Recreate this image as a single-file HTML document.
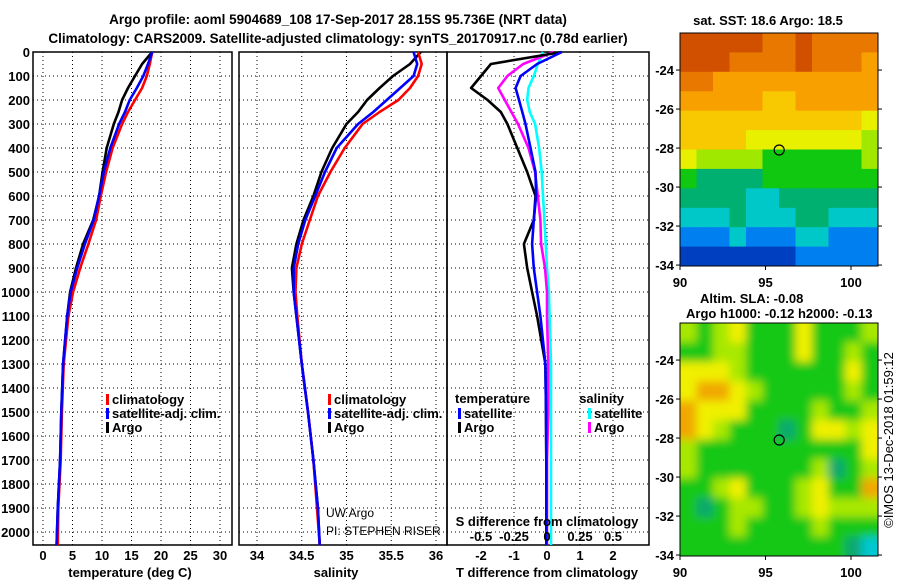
<!DOCTYPE html>
<html><head><meta charset="utf-8"><style>
html,body{margin:0;padding:0;background:#fff;}
svg{display:block;font-family:"Liberation Sans",sans-serif;}
.b{font-weight:bold;font-size:13px;}
</style></head><body>
<svg id="c" width="900" height="580" viewBox="0 0 900 580">
<text x="338" y="24" text-anchor="middle" font-size="13.5" font-weight="bold">Argo profile: aoml 5904689_108 17-Sep-2017 28.15S 95.736E (NRT data)</text>
<text x="338" y="43" text-anchor="middle" font-size="13.5" font-weight="bold">Climatology: CARS2009. Satellite-adjusted climatology: synTS_20170917.nc (0.78d earlier)</text>
<g id="g"></g>
</svg>
<script>
// ---------- data ----------
const depths = [0,50,100,150,200,250,300,400,500,600,700,800,900,1000,1100,1300,1500,1700,1900,2054];
const tempClim = [18.5,18.1,17.6,16.8,15.6,14.4,13.4,11.8,10.7,9.8,9.0,7.7,6.3,5.1,4.3,3.5,3.2,3.0,2.6,2.5];
const tempSat  = [18.5,17.8,17.0,15.9,14.7,13.9,12.9,11.4,10.3,9.5,8.6,7.1,5.8,4.7,4.1,3.4,3.1,2.9,2.5,2.3];
const tempArgo = [18.5,16.8,15.6,14.4,13.4,12.8,12.0,10.8,10.1,9.5,8.5,6.8,5.6,4.6,4.1,3.4,3.1,2.9,2.5,2.3];
const salClim = [35.80,35.84,35.80,35.71,35.58,35.37,35.18,34.98,34.82,34.68,34.59,34.50,34.44,34.43,34.45,34.50,34.57,34.63,34.67,34.70];
const salSat  = [35.75,35.79,35.75,35.60,35.45,35.30,35.13,34.89,34.76,34.65,34.54,34.46,34.41,34.41,34.44,34.50,34.57,34.63,34.68,34.70];
const salArgo = [35.83,35.71,35.52,35.37,35.23,35.13,35.00,34.84,34.72,34.63,34.52,34.44,34.39,34.41,34.44,34.50,34.57,34.63,34.68,34.70];
const tDiffSat  = [0.45,-0.3,-0.8,-0.95,-0.85,-0.75,-0.65,-0.5,-0.35,-0.33,-0.4,-0.45,-0.4,-0.3,-0.2,-0.05,-0.03,-0.02,-0.02,-0.02];
const tDiffArgo = [0.45,-1.7,-2.0,-2.3,-1.8,-1.4,-1.2,-0.9,-0.6,-0.35,-0.4,-0.7,-0.6,-0.45,-0.3,-0.05,-0.03,-0.02,-0.02,-0.02];
const sDiffSat  = [-0.03,-0.07,-0.1,-0.14,-0.15,-0.13,-0.09,-0.06,-0.04,-0.03,-0.02,-0.01,0.0,0.015,0.02,0.03,0.03,0.03,0.03,0.03];
const sDiffArgo = [0.05,-0.18,-0.3,-0.37,-0.32,-0.27,-0.22,-0.14,-0.09,-0.07,-0.05,-0.045,-0.015,0.0,0.0,0.01,0.01,0.0,0.0,0.0];
const depthTicks = [0,100,200,300,400,500,600,700,800,900,1000,1100,1200,1300,1400,1500,1600,1700,1800,1900,2000];
const tempTicks = [0,5,10,15,20,25,30];
const salTicks = [34,34.5,35,35.5,36];
const salTickLabels = ["34","34.5","35","35.5","36"];
const tdTicks = [-2,-1,0,1,2];
const sdTicks = [-0.5,-0.25,0,0.25,0.5];
const sdTickLabels = ["-0.5","-0.25","0","0.25","0.5"];
const latTicks = [-24,-26,-28,-30,-32,-34];
const lonTicks = [90,95,100];
const sstGrid = [
[0.5,0.5,0.5,1,1,1.5,1.5,1,1.5,1.5,1.5,2],
[1,0.5,1,1.5,2,2,2,1,2,2,2,2.5],
[2,2,2.5,2.5,2.5,3,3,2.5,3,2.5,2.5,2.5],
[2.5,3,3,3,3,3.5,3.5,3,3,3,3,3],
[4,4,3.5,3.5,3.5,4,4,3.5,3.5,4,4,4.5],
[4,4,4,4,4.5,5,5,5,5,5,5,6],
[5,5.5,5.5,6,6,7,7,6.5,6.5,6.5,6.5,6],
[7,7.5,7.5,7.5,7.5,7,7,7,7,7,7,7],
[8,8,8,8,8.5,8.5,7.5,7.5,7.5,7.5,8,8],
[9,8.5,8.5,8,8.5,9,8.5,8,8,8.5,9,9],
[10,10,9.5,9,9.5,9.5,9.5,9,9,9.5,10,10],
[10.5,11,11,11,11,11,11,10,10,10,10,10]];
const slaGrid = [
[3,2,3,4,2,2,2,4,2,2,2,3],
[2,2,3,3,2,2,2,4,2,1.5,3,2],
[4,4,4,3,2,2,1.5,2,2,2,4,2],
[4,4.5,5,4,3,2,1.5,2,2,2,3,2],
[4.5,4,4,4,2,1.5,1.5,2,3,2,2,3],
[5,4,3,2,2,1.5,1.2,2,4,4,3,4],
[3,2,2,2,1.5,1.5,2,2,2,2,2,4],
[3,2,2,2,2,1.5,2,2,3,1,1.5,3],
[2,2,3,4,2,1.5,2,3,4,2,2,4.5],
[1.5,1,2,3,3,2,2,3,4,3,3,3],
[1.5,2,2,3,2,2,1.5,2,3,2,2,2],
[2,2,2,2,2,2,1.5,2,2,2,1,0]];
const argoLon = 95.8, argoLat = -28.1;

// ---------- helpers ----------
const NS="http://www.w3.org/2000/svg";
const G=document.getElementById('g');
function mk(tag,attrs,parent){const e=document.createElementNS(NS,tag);for(const k in attrs)e.setAttribute(k,attrs[k]);(parent||G).appendChild(e);return e;}
function txt(x,y,s,cls,anchor,parent){const t=mk('text',{x:x,y:y,'text-anchor':anchor||'middle'},parent);if(cls)t.setAttribute('class',cls);t.textContent=s;return t;}
const Y0=52, Y1=545;
const yD = d => Y0 + d*0.24;
const xT = v => 43 + v*5.9;
const xS = v => 257 + (v-34)*89.5;
const xTD = v => 547 + v*33;
const xSD = v => 547 + v*132;

function panel(x0,x1,name,vx,xt){
  const g=mk('g',{});
  
  
  depthTicks.forEach(d=>{ if(d>0) mk('line',{x1:x0,x2:x1,y1:yD(d),y2:yD(d),stroke:'#000','stroke-width':1,'stroke-dasharray':'1,3'},g);});
  xt.forEach(v=>{ mk('line',{x1:vx(v),x2:vx(v),y1:Y0,y2:Y1,stroke:'#000','stroke-width':1,'stroke-dasharray':'1,3'},g);});
  mk('rect',{x:x0,y:Y0,width:x1-x0,height:Y1-Y0,fill:'none',stroke:'#000','stroke-width':1.5},g);
  return g;
}
function line(vals,xf,color,name,g){
  const pts=vals.map((v,i)=>xf(v).toFixed(1)+','+yD(depths[i]).toFixed(1)).join(' ');
  const p=mk('polyline',{points:pts,fill:'none',stroke:color,'stroke-width':2.6,'stroke-linejoin':'round'},g);
  
  
}
function legend(x,y,color,label,g){
  mk('rect',{x:x,y:y-10,width:3,height:11,fill:color},g);
  const t=txt(x+6,y,label,'b','start',g);
  
  
}

// depth ticks
depthTicks.forEach(d=>{const t=txt(30,yD(d)+5,String(d),'b','end');
  
  });

// panel 1 temperature
const p1=panel(33,232,'temperature-panel',xT,tempTicks);
line(tempArgo,xT,'#000000','temp-argo-line',p1);
line(tempClim,xT,'#ff0000','temp-climatology-line',p1);
line(tempSat,xT,'#0000ff','temp-satellite-line',p1);
tempTicks.forEach(v=>txt(xT(v),560,String(v),'b','middle',p1));
txt(130,577,'temperature (deg C)','b','middle',p1);
legend(106,404,'#ff0000','climatology',p1);
legend(106,418,'#0000ff','satellite-adj. clim.',p1);
legend(106,432,'#000000','Argo',p1);

// panel 2 salinity
const p2=panel(239,447,'salinity-panel',xS,salTicks);
line(salArgo,xS,'#000000','sal-argo-line',p2);
line(salClim,xS,'#ff0000','sal-climatology-line',p2);
line(salSat,xS,'#0000ff','sal-satellite-line',p2);
salTicks.forEach((v,i)=>txt(xS(v),560,salTickLabels[i],'b','middle',p2));
txt(336,577,'salinity','b','middle',p2);
legend(328,404,'#ff0000','climatology',p2);
legend(328,418,'#0000ff','satellite-adj. clim.',p2);
legend(328,432,'#000000','Argo',p2);
txt(326,517,'UW Argo',null,'start',p2).setAttribute('font-size','12');
txt(326,535,'PI: STEPHEN RISER',null,'start',p2).setAttribute('font-size','12');

// panel 3 differences
const p3=panel(447,649,'difference-panel',xTD,tdTicks);
line(sDiffSat,xSD,'#00ffff','sdiff-satellite-line',p3);
line(sDiffArgo,xSD,'#ff00ff','sdiff-argo-line',p3);
line(tDiffArgo,xTD,'#000000','tdiff-argo-line',p3);
line(tDiffSat,xTD,'#0000ff','tdiff-satellite-line',p3);
tdTicks.forEach(v=>txt(xTD(v),560,String(v),'b','middle',p3));
txt(547,577,'T difference from climatology','b','middle',p3);
sdTicks.forEach((v,i)=>txt(xSD(v),541,sdTickLabels[i],'b','middle',p3));
txt(547,526,'S difference from climatology','b','middle',p3);
txt(455,403,'temperature','b','start',p3);
txt(624,403,'salinity','b','end',p3);
legend(458,418,'#0000ff','satellite',p3);
legend(458,432,'#000000','Argo',p3);
legend(588,418,'#00ffff','satellite',p3);
legend(588,432,'#ff00ff','Argo',p3);

// ---------- maps ----------
const sstPal=['#b02800','#d05000','#e87800','#f8a000','#f8c800','#e8f000','#a0e800','#10c810','#00b070','#00c8c8','#0080f0','#0040c0'];
const slaPal=['#00c8d0','#10a870','#18c818','#a8e800','#f0f000','#f0a800'];
function col(pal,v){const i=Math.max(0,Math.min(pal.length-1,Math.round(v)));return pal[i];}
function map(y0,grid,pal,name,blur){
  const x0=680,x1=878,y1=y0+233;
  const lonX=l=>680+(l-90)*17.1;
  const latY=l=>y0+( -22.1 - l)*19.5;
  const g=mk('g',{});
  
  
  const clip=mk('clipPath',{id:name+'-clip'},g);
  mk('rect',{x:x0,y:y0,width:x1-x0,height:y1-y0},clip);
  const cells=mk('g',{'clip-path':'url(#'+name+'-clip)'},g);
  if(blur){const f=mk('filter',{id:name+'-blur',x:'-10%',y:'-10%',width:'120%',height:'120%'},g);mk('feGaussianBlur',{stdDeviation:4.5},f);}
  const inner=mk('g',blur?{filter:'url(#'+name+'-blur)'}:{},cells);
  const nr=grid.length,nc=grid[0].length;
  const cw=(x1-x0)/nc, ch=(y1-y0)/nr;
  grid.forEach((row,r)=>row.forEach((v,c)=>{
    const cell=mk('rect',{x:(x0+c*cw-(blur&&c==0?20:0)).toFixed(1),y:(y0+r*ch-(blur&&r==0?20:0)).toFixed(1),width:(cw+0.6+(blur&&(c==0||c==nc-1)?20:0)).toFixed(1),height:(ch+0.6+(blur&&(r==0||r==nr-1)?20:0)).toFixed(1),fill:col(pal,v)},inner);
    
    
  }));
  mk('rect',{x:x0,y:y0,width:x1-x0,height:y1-y0,fill:'none',stroke:'#000','stroke-width':1},g);
  latTicks.forEach(l=>{const y=latY(l);
    mk('line',{x1:x0-4,x2:x0,y1:y,y2:y,stroke:'#000'},g);
    mk('line',{x1:x1,x2:x1+4,y1:y,y2:y,stroke:'#000'},g);
    txt(x0-6,y+5,String(l),'b','end',g);});
  lonTicks.forEach(l=>{const x=lonX(l);
    mk('line',{x1:x,x2:x,y1:y1,y2:y1+4,stroke:'#000'},g);
    txt(x,y1+21,String(l),'b','middle',g);});
  const c=mk('circle',{cx:lonX(argoLon),cy:latY(argoLat),r:5,fill:'none',stroke:'#000','stroke-width':1.2},g);
  
  
}
map(33,sstGrid,sstPal,'sst-map',false);
map(323,slaGrid,slaPal,'sla-map',true);
txt(768,25,'sat. SST: 18.6 Argo: 18.5','b','middle');
txt(700,303,'Altim. SLA: -0.08','b','start');
txt(686,318,'Argo h1000: -0.12 h2000: -0.13','b','start');
const rot=txt(0,0,'©IMOS 13-Dec-2018 01:59:12',null,'middle');
rot.setAttribute('font-size','13');
rot.setAttribute('transform','translate(893,440) rotate(-90)');


</script>
</body></html>
